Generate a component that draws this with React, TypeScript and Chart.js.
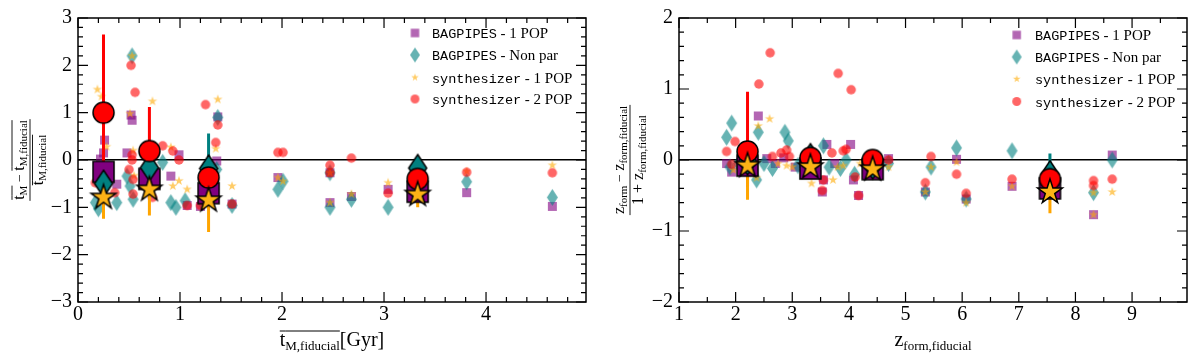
import React, { useEffect, useRef } from 'react';
import { Chart, registerables } from 'chart.js';
Chart.register(...registerables);

type Pt = [number, number];
type Mean = [number, number, number, number]; // x, y, err low, err high

// ================= Left panel: mass-weighted age =================
const ageXRange: Pt = [0, 4.98];
const ageYRange: Pt = [-3, 3];

const ageBagpipes1Pop: Pt[] = [
  [0.26, 0.42], [0.25, 0.15], [0.22, 0.02], [0.38, -0.51], [0.48, 0.15], [0.52, 0.95], [0.53, 0.84],
  [0.91, -0.34], [0.99, 0.11], [1.07, -0.96], [1.2, -0.98], [1.36, -0.02], [1.37, 0.91], [1.51, -0.93],
  [1.96, -0.37], [2.47, -0.27], [2.47, -0.9], [2.68, -0.77], [3.04, -0.62], [3.81, -0.69], [4.65, -0.98],
];
const ageBagpipesNonPar: Pt[] = [
  [0.53, 2.2], [0.48, -0.34], [0.51, -0.55], [0.54, -0.83], [0.17, -0.9], [0.2, -1.03], [0.38, -0.9],
  [0.83, -0.05], [0.91, -0.9], [0.96, -1.0], [1.05, -0.86], [1.22, -0.9], [1.36, -0.2], [1.37, 0.9],
  [1.51, -0.96], [1.96, -0.62], [2.01, -0.45], [2.47, -0.27], [2.47, -1.0], [2.68, -0.83], [3.04, -1.0],
  [3.81, -0.46], [4.65, -0.79],
];
const ageSynth1Pop: Pt[] = [
  [0.19, 1.49], [0.23, 1.34], [0.28, 0.28], [0.51, 0.98], [0.53, 2.2], [0.54, 0.2], [0.55, -0.33],
  [0.73, 1.24], [0.91, 0.27], [0.93, -0.55], [0.99, -0.44], [1.07, -0.62], [1.35, 0.24], [1.37, 1.28],
  [1.51, -0.55], [1.96, -0.37], [2.01, -0.45], [2.47, -0.27], [2.47, -0.9], [2.68, -0.72], [3.04, -0.48],
  [3.81, -0.24], [4.65, -0.11],
];
const ageSynth2Pop: Pt[] = [
  [0.17, -0.48], [0.36, -0.69], [0.5, -0.2], [0.52, 2.0], [0.53, 0.11], [0.53, 0.0], [0.54, -0.41],
  [0.54, -0.72], [0.56, 1.43], [0.73, -0.79], [0.83, 0.3], [0.93, 0.19], [0.99, 0.0], [1.07, -0.96],
  [1.2, -0.96], [1.25, 1.17], [1.35, 0.37], [1.37, 0.74], [1.51, -0.93], [1.96, 0.16], [2.01, 0.16],
  [2.47, -0.11], [2.47, -0.27], [2.68, 0.04], [3.04, -0.7], [3.81, -0.26], [4.65, -0.27],
];
const ageMeanBagpipes1Pop: Mean[] = [[0.25, -0.25, 0.2, 0.2], [0.7, -0.4, 0.2, 0.2], [1.28, -0.7, 0.2, 0.2], [3.33, -0.67, 0.15, 0.15]];
const ageMeanBagpipesNonPar: Mean[] = [[0.25, -0.5, 0.25, 0.25], [0.7, -0.16, 0.25, 0.25], [1.28, -0.18, 0.74, 0.74], [3.33, -0.17, 0.2, 0.2]];
const ageMeanSynth2Pop: Mean[] = [[0.25, 1.0, 1.65, 1.65], [0.7, 0.19, 0.93, 0.93], [1.28, -0.37, 0.35, 0.35], [3.33, -0.4, 0.2, 0.2]];
const ageMeanSynth1Pop: Mean[] = [[0.25, -0.79, 0.45, 0.45], [0.7, -0.62, 0.55, 0.55], [1.28, -0.85, 0.67, 0.67], [3.33, -0.73, 0.27, 0.27]];

// ================= Right panel: formation redshift =================
const zXRange: Pt = [1, 9.97];
const zYRange: Pt = [-2, 2];

const zBagpipes1Pop: Pt[] = [
  [1.84, -0.05], [1.93, -0.17], [2.4, 0.62], [2.55, 0.02], [2.7, -0.05], [2.85, 0.03], [3.05, -0.1],
  [3.2, -0.05], [3.55, -0.28], [3.53, -0.45], [3.61, 0.22], [3.75, -0.05], [4.03, 0.22], [4.08, -0.28],
  [4.17, -0.5], [4.7, 0.02], [5.35, -0.45], [5.9, 0.01], [6.07, -0.55], [6.88, -0.37], [8.32, -0.77],
  [8.65, 0.07],
];
const zBagpipesNonPar: Pt[] = [
  [1.84, 0.32], [1.93, 0.52], [1.9, -0.1], [2.05, -0.05], [2.37, -0.28], [2.4, 0.39], [2.5, -0.05],
  [2.65, -0.12], [2.87, 0.39], [2.93, 0.27], [3.1, -0.08], [3.4, -0.15], [3.55, 0.2], [3.65, -0.1],
  [3.85, -0.12], [3.95, 0.0], [4.1, -0.2], [4.7, -0.05], [5.45, -0.1], [5.35, -0.45], [5.9, 0.17],
  [6.07, -0.55], [6.88, 0.13], [8.32, -0.46], [8.65, 0.0],
];
const zSynth1Pop: Pt[] = [
  [1.96, -0.14], [2.1, -0.12], [2.37, -0.25], [2.4, 0.48], [2.6, 0.58], [2.75, -0.05], [2.9, -0.08],
  [3.0, -0.1], [3.34, -0.33], [3.72, -0.28], [3.8, -0.1], [3.9, -0.08], [4.2, -0.05], [4.7, -0.1],
  [5.45, -0.1], [5.35, -0.45], [5.9, -0.03], [6.07, -0.6], [6.88, -0.37], [8.32, -0.46], [8.32, -0.77],
  [8.65, -0.45],
];
const zSynth2Pop: Pt[] = [
  [1.84, 0.12], [1.99, 0.26], [1.93, -0.06], [2.41, 1.07], [2.61, 1.51], [2.65, 0.05], [2.8, 0.1],
  [2.9, 0.14], [2.95, 0.05], [3.55, -0.28], [3.53, -0.43], [3.7, 0.1], [3.81, 1.22], [3.9, 0.13],
  [3.95, 0.15], [4.04, 0.99], [4.11, -0.24], [4.17, -0.5], [4.7, 0.0], [5.45, 0.05], [5.35, -0.32],
  [5.9, -0.2], [6.07, -0.47], [6.88, -0.27], [8.32, -0.29], [8.32, -0.36], [8.65, -0.27],
];
const zMeanBagpipes1Pop: Mean[] = [[2.21, -0.08, 0.1, 0.1], [3.32, -0.12, 0.1, 0.1], [4.42, -0.13, 0.1, 0.1], [7.55, -0.4, 0.1, 0.1]];
const zMeanBagpipesNonPar: Mean[] = [[2.21, -0.02, 0.1, 0.1], [3.32, 0.04, 0.1, 0.15], [4.42, -0.08, 0.1, 0.1], [7.55, -0.2, 0.29, 0.29]];
const zMeanSynth2Pop: Mean[] = [[2.21, 0.12, 0.5, 0.84], [3.32, 0.03, 0.1, 0.1], [4.42, 0.0, 0.1, 0.1], [7.55, -0.27, 0.1, 0.1]];
const zMeanSynth1Pop: Mean[] = [[2.21, -0.08, 0.48, 0.2], [3.32, -0.1, 0.1, 0.1], [4.42, -0.13, 0.1, 0.1], [7.55, -0.45, 0.3, 0.1]];

const legendLabels = [
  [['BAGPIPES', 'mono'], [' - 1 POP', 'serif']],
  [['BAGPIPES', 'mono'], [' - Non par', 'serif']],
  [['synthesizer', 'mono'], [' - 1 POP', 'serif']],
  [['synthesizer', 'mono'], [' - 2 POP', 'serif']],
];

// ================= styling =================
const FONT = '"Liberation Serif", "Times New Roman", serif';
const MONO = '"Liberation Mono", "Courier New", monospace';
const C_PURPLE = 'rgba(128,0,128,0.6)';
const C_TEAL = 'rgba(0,128,128,0.6)';
const C_ORANGE = 'rgba(255,170,0,0.6)';
const C_RED = 'rgba(255,0,0,0.6)';

function makeMarker(shape: string, w: number, h: number, fill: string, stroke?: string, lw = 0): HTMLCanvasElement {
  const pad = stroke ? Math.ceil(lw) + 1 : 1;
  const c = document.createElement('canvas');
  c.width = Math.round(w + 2 * pad);
  c.height = Math.round(h + 2 * pad);
  const g = c.getContext('2d')!;
  g.translate(c.width / 2, c.height / 2);
  g.beginPath();
  if (shape === 'square') g.rect(-w / 2, -h / 2, w, h);
  else if (shape === 'diamond') {
    g.moveTo(0, -h / 2); g.lineTo(w / 2, 0); g.lineTo(0, h / 2); g.lineTo(-w / 2, 0); g.closePath();
  } else if (shape === 'circle') g.arc(0, 0, w / 2, 0, Math.PI * 2);
  else {
    for (let i = 0; i < 10; i++) {
      const r = i % 2 === 0 ? w / 2 : (w / 2) * 0.382;
      const a = -Math.PI / 2 + (i * Math.PI) / 5;
      const px = r * Math.cos(a), py = r * Math.sin(a);
      if (i === 0) g.moveTo(px, py); else g.lineTo(px, py);
    }
    g.closePath();
  }
  g.fillStyle = fill;
  g.fill();
  if (stroke && lw > 0) {
    g.lineWidth = lw; g.strokeStyle = stroke; g.lineJoin = 'miter'; g.stroke();
  }
  return c;
}

type Seg = { t: string; size: number; dy?: number; font?: string; ol?: boolean };

function segWidth(ctx: CanvasRenderingContext2D, segs: Seg[]) {
  let w = 0;
  for (const s of segs) { ctx.font = `${s.size}px ${s.font || FONT}`; w += ctx.measureText(s.t).width; }
  return w;
}
function drawSegs(ctx: CanvasRenderingContext2D, segs: Seg[], x: number, y: number, olY = 0) {
  let cx = x;
  for (const s of segs) {
    ctx.font = `${s.size}px ${s.font || FONT}`;
    const w = ctx.measureText(s.t).width;
    ctx.fillText(s.t, cx, y + (s.dy || 0));
    if (s.ol) {
      ctx.beginPath(); ctx.moveTo(cx, olY); ctx.lineTo(cx + w, olY); ctx.stroke();
    }
    cx += w;
  }
}

function fracTitle(ctx: CanvasRenderingContext2D, cx: number, cy: number, num: Seg[], den: Seg[], numOl: number, denOl: number) {
  ctx.save();
  ctx.translate(cx, cy);
  ctx.rotate(-Math.PI / 2);
  ctx.fillStyle = '#000'; ctx.strokeStyle = '#000'; ctx.lineWidth = 0.9;
  ctx.textBaseline = 'alphabetic'; ctx.textAlign = 'left';
  const wn = segWidth(ctx, num), wd = segWidth(ctx, den);
  const W = Math.max(wn, wd) + 2;
  drawSegs(ctx, num, -wn / 2, -6, numOl);
  drawSegs(ctx, den, -wd / 2, 13, denOl);
  ctx.beginPath(); ctx.moveTo(-W / 2, 0); ctx.lineTo(W / 2, 0); ctx.stroke();
  ctx.restore();
}

interface PanelDef {
  xRange: Pt; yRange: Pt; xMinor: number; yMinor: number;
  yAxisWidth: number; padRight: number;
  sq: Pt[]; di: Pt[]; st: Pt[]; ci: Pt[];
  mSq: Mean[]; mDi: Mean[]; mCi: Mean[]; mSt: Mean[];
  legendX: number; legendTextX: number; legendY: number[];
  titles: (ctx: CanvasRenderingContext2D, area: any) => void;
}

const fmt = (v: any) => {
  const n = Math.round(Number(v));
  return n < 0 ? '\u2212' + Math.abs(n) : String(n);
};

function buildConfig(p: PanelDef): any {
  const mk = {
    sq: makeMarker('square', 9, 9, C_PURPLE),
    di: makeMarker('diamond', 11, 17, C_TEAL),
    st: makeMarker('star', 10, 10, C_ORANGE),
    ci: makeMarker('circle', 9.5, 9.5, C_RED),
    bSq: makeMarker('square', 21, 21, '#800080', '#000', 1.5),
    bDi: makeMarker('diamond', 18, 27, '#008080', '#000', 1.5),
    bCi: makeMarker('circle', 21, 21, '#ff0000', '#000', 1.5),
    bSt: makeMarker('star', 26, 26, '#FCB316', '#000', 1.5),
    lSq: makeMarker('square', 8.5, 8.5, C_PURPLE),
    lDi: makeMarker('diamond', 10, 15, C_TEAL),
    lSt: makeMarker('star', 8, 8, C_ORANGE),
    lCi: makeMarker('circle', 9, 9, C_RED),
  };
  const sc = (pts: Pt[], m: HTMLCanvasElement, order: number) => ({
    type: 'scatter', data: pts.map(([x, y]) => ({ x, y })), pointStyle: m, pointRadius: 5, order,
  });
  const mean = (pts: Mean[], m: HTMLCanvasElement, order: number) => ({
    type: 'scatter', data: pts.map(([x, y]) => ({ x, y })), pointStyle: m, pointRadius: 5, order,
  });
  const err = (pts: Mean[], color: string, order: number) => {
    const d: any[] = [];
    pts.forEach(([x, y, lo, hi]) => { d.push({ x, y: y - lo }, { x, y: y + hi }, { x, y: null }); });
    return {
      type: 'line', data: d, borderColor: color, borderWidth: 3, pointRadius: 0, spanGaps: false,
      fill: false, tension: 0, order, borderCapStyle: 'butt',
    };
  };
  const legendMarkers = [mk.lSq, mk.lDi, mk.lSt, mk.lCi];

  const decor = {
    id: 'decor',
    afterDraw(chart: any) {
      const ctx: CanvasRenderingContext2D = chart.ctx;
      const { left, right, top, bottom } = chart.chartArea;
      const xs = chart.scales.x, ys = chart.scales.y;
      ctx.save();
      ctx.strokeStyle = '#000';
      ctx.lineWidth = 1.2;
      ctx.beginPath();
      const isMajor = (v: number) => Math.abs(v - Math.round(v)) < 1e-6;
      for (let n = Math.ceil(xs.min / p.xMinor - 1e-6); n <= Math.floor(xs.max / p.xMinor + 1e-6); n++) {
        const v = n * p.xMinor;
        const L = isMajor(v) ? 10 : 5;
        const px = xs.getPixelForValue(v);
        ctx.moveTo(px, bottom); ctx.lineTo(px, bottom - L);
        ctx.moveTo(px, top); ctx.lineTo(px, top + L);
      }
      for (let n = Math.ceil(ys.min / p.yMinor - 1e-6); n <= Math.floor(ys.max / p.yMinor + 1e-6); n++) {
        const v = n * p.yMinor;
        const L = isMajor(v) ? 10 : 5;
        const py = ys.getPixelForValue(v);
        ctx.moveTo(left, py); ctx.lineTo(left + L, py);
        ctx.moveTo(right, py); ctx.lineTo(right - L, py);
      }
      ctx.stroke();
      ctx.lineWidth = 1.5;
      ctx.strokeRect(left, top, right - left, bottom - top);

      // legend
      ctx.fillStyle = '#000';
      ctx.textBaseline = 'alphabetic';
      ctx.textAlign = 'left';
      legendLabels.forEach((parts, i) => {
        const y = p.legendY[i];
        const m = legendMarkers[i];
        ctx.drawImage(m, p.legendX - m.width / 2, y - m.height / 2);
        const segs: Seg[] = parts.map(([t, f]) => f === 'mono'
          ? { t, size: 13.5, font: MONO }
          : { t, size: 15 });
        drawSegs(ctx, segs, p.legendTextX, y + 5);
      });

      p.titles(ctx, chart.chartArea);
      ctx.restore();
    },
  };

  return {
    type: 'scatter',
    data: {
      datasets: [
        sc(p.sq, mk.sq, 100),
        sc(p.di, mk.di, 90),
        sc(p.st, mk.st, 80),
        sc(p.ci, mk.ci, 70),
        err(p.mSq, '#800080', 60),
        err(p.mDi, '#008080', 59),
        err(p.mCi, '#ff0000', 58),
        err(p.mSt, '#FFA500', 57),
        mean(p.mSq, mk.bSq, 40),
        mean(p.mDi, mk.bDi, 30),
        mean(p.mCi, mk.bCi, 20),
        mean(p.mSt, mk.bSt, 10),
      ],
    },
    options: {
      animation: false,
      responsive: false,
      devicePixelRatio: 1,
      events: [],
      layout: { padding: { left: 0, top: 13, right: p.padRight, bottom: 0 } },
      plugins: { legend: { display: false }, tooltip: { enabled: false } },
      scales: {
        x: {
          type: 'linear', min: p.xRange[0], max: p.xRange[1],
          afterFit: (s: any) => { s.height = 53; },
          grid: { display: false, drawTicks: false },
          border: { display: false },
          ticks: {
            stepSize: 1, includeBounds: false, autoSkip: false, maxRotation: 0,
            font: { family: FONT, size: 20 }, color: '#000', padding: 1, callback: fmt,
          },
        },
        y: {
          type: 'linear', min: p.yRange[0], max: p.yRange[1],
          afterFit: (s: any) => { s.width = p.yAxisWidth; },
          grid: {
            drawTicks: false, lineWidth: 1.5,
            color: (c: any) => (c.tick && Math.abs(c.tick.value) < 1e-9 ? '#000' : 'rgba(0,0,0,0)'),
          },
          border: { display: false },
          ticks: {
            stepSize: 1, includeBounds: false, autoSkip: false,
            font: { family: FONT, size: 20 }, color: '#000', padding: 6, callback: fmt,
          },
        },
      },
    },
    plugins: [decor],
  };
}

const leftDef: PanelDef = {
  xRange: ageXRange, yRange: ageYRange, xMinor: 0.2, yMinor: 0.2,
  yAxisWidth: 78, padRight: 14,
  sq: ageBagpipes1Pop, di: ageBagpipesNonPar, st: ageSynth1Pop, ci: ageSynth2Pop,
  mSq: ageMeanBagpipes1Pop, mDi: ageMeanBagpipesNonPar, mCi: ageMeanSynth2Pop, mSt: ageMeanSynth1Pop,
  legendX: 415, legendTextX: 432, legendY: [33, 55, 77.5, 99],
  titles: (ctx, a) => {
    ctx.fillStyle = '#000'; ctx.strokeStyle = '#000';
    fracTitle(ctx, 30, (a.top + a.bottom) / 2,
      [
        { t: 't', size: 16, ol: true }, { t: 'M', size: 11, dy: 3, ol: true },
        { t: ' \u2212 ', size: 14 },
        { t: 't', size: 16, ol: true }, { t: 'M,fiducial', size: 11, dy: 3, ol: true },
      ],
      [{ t: 't', size: 16, ol: true }, { t: 'M,fiducial', size: 11, dy: 3, ol: true }],
      -18, 2.5);
    const segs: Seg[] = [
      { t: 't', size: 20, ol: true }, { t: 'M,fiducial', size: 13, dy: 4, ol: true }, { t: '[Gyr]', size: 20 },
    ];
    ctx.lineWidth = 1;
    const w = segWidth(ctx, segs);
    drawSegs(ctx, segs, (a.left + a.right) / 2 - w / 2, 346, 331);
  },
};

const rightDef: PanelDef = {
  xRange: zXRange, yRange: zYRange, xMinor: 0.5, yMinor: 0.2,
  yAxisWidth: 79, padRight: 13,
  sq: zBagpipes1Pop, di: zBagpipesNonPar, st: zSynth1Pop, ci: zSynth2Pop,
  mSq: zMeanBagpipes1Pop, mDi: zMeanBagpipesNonPar, mCi: zMeanSynth2Pop, mSt: zMeanSynth1Pop,
  legendX: 416.7, legendTextX: 435, legendY: [35, 57, 79, 101.5],
  titles: (ctx, a) => {
    ctx.fillStyle = '#000'; ctx.strokeStyle = '#000';
    fracTitle(ctx, 30, (a.top + a.bottom) / 2,
      [
        { t: 'z', size: 16 }, { t: 'form', size: 11, dy: 3 },
        { t: ' \u2212 ', size: 14 },
        { t: 'z', size: 16 }, { t: 'form,fiducial', size: 11, dy: 3 },
      ],
      [{ t: '1 + z', size: 16 }, { t: 'form,fiducial', size: 11, dy: 3 }],
      -18, 2.5);
    const segs: Seg[] = [{ t: 'z', size: 20 }, { t: 'form,fiducial', size: 13, dy: 4 }];
    const w = segWidth(ctx, segs);
    drawSegs(ctx, segs, (a.left + a.right) / 2 - w / 2, 346);
  },
};

function Panel({ def, left }: { def: PanelDef; left: number }) {
  const ref = useRef<HTMLCanvasElement>(null);
  useEffect(() => {
    const chart = new Chart(ref.current as HTMLCanvasElement, buildConfig(def));
    return () => chart.destroy();
  }, [def]);
  return (
    <canvas
      ref={ref}
      width={600}
      height={355}
      style={{ position: 'absolute', left, top: 0, width: 600, height: 355 }}
    />
  );
}

export default function App() {
  return (
    <div style={{ position: 'absolute', left: 0, top: 0, width: 1200, height: 355, background: '#fff' }}>
      <Panel def={leftDef} left={0} />
      <Panel def={rightDef} left={600} />
    </div>
  );
}
